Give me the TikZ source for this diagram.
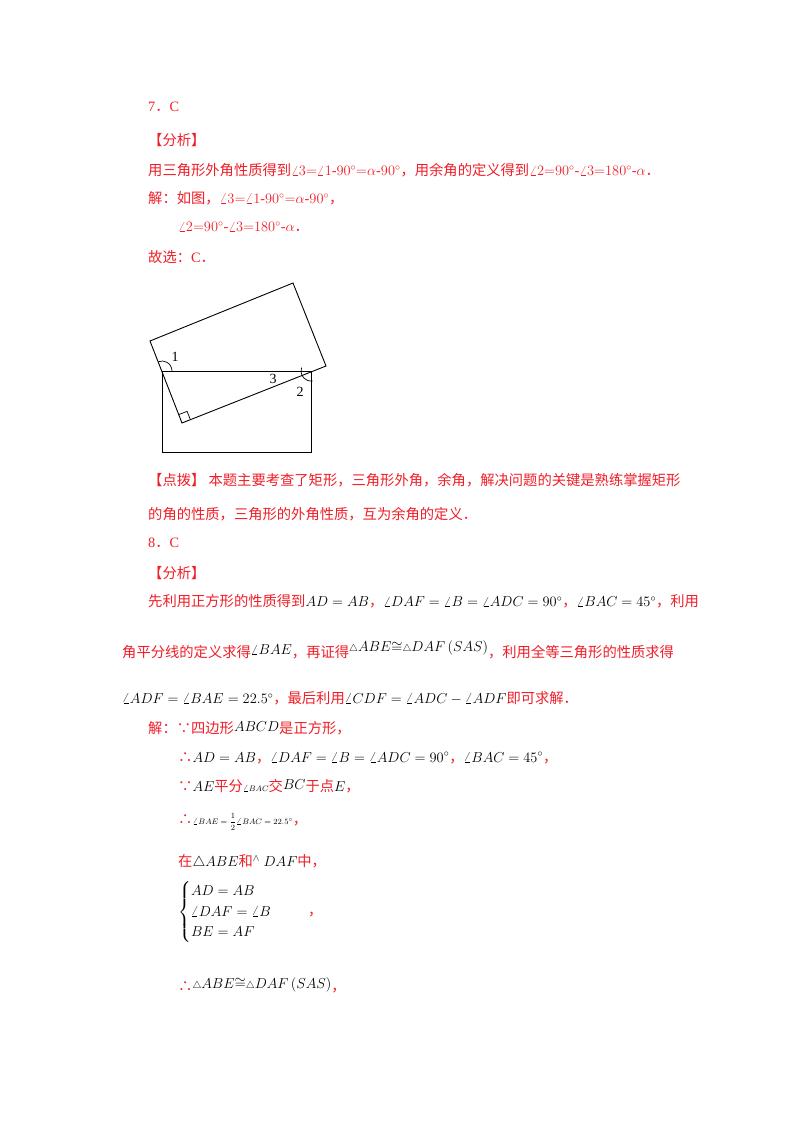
\documentclass[tikz,border=0pt]{standalone}
\usepackage{amsmath}
\usepackage{fontspec}
\setmainfont{Liberation Serif}
\newfontfamily\cjk{Noto Sans CJK SC}
\usetikzlibrary{calc}
\definecolor{rd}{RGB}{240,30,40}
\newcommand{\zh}[1]{{\cjk #1}}
\begin{document}
\begin{tikzpicture}[x=1pt,y=-1pt,
  t/.style={anchor=west,inner sep=0pt,text=rd,font=\fontsize{14.3}{17}\selectfont},
  fig/.style={line width=0.9pt}]
\useasboundingbox[fill=white] (0,0) rectangle (800,1132);
% problem 7
\node[t] (a1) at (148,107) {7\zh{．}C};
\node[t] (a2) at (148,140) {\zh{【分析】}};
\node[t] (a3) at (148,170) {\zh{用三角形外角性质得到}$\angle3{=}\angle1\text{-}90^\circ{=}\alpha\text{-}90^\circ$\zh{，用余角的定义得到}$\angle2{=}90^\circ\text{-}\angle3{=}180^\circ\text{-}\alpha$\zh{．}};
\node[t] (a4) at (148,198) {\zh{解：如图，}$\angle3{=}\angle1\text{-}90^\circ{=}\alpha\text{-}90^\circ$\zh{，}};
\node[t] (a5) at (178,227) {$\angle2{=}90^\circ\text{-}\angle3{=}180^\circ\text{-}\alpha$\zh{．}};
\node[t] (a6) at (148,257) {\zh{故选：}C\zh{．}};
% figure
\coordinate (P) at (150,341);
\coordinate (Q) at (293,283);
\coordinate (R) at (326,366);
\coordinate (S) at (182,423);
\draw[fig] (P)--(Q)--(R)--(S)--cycle;
\coordinate (V) at (162,371);
\coordinate (W) at (311,371);
\draw[fig] (V) rectangle (311,452);
% right angle at S
\draw[line width=0.7pt] ($(S)!9pt!(P)$) -- ($(S)!9pt!(P)+(S)!9pt!(R)-(S)$) -- ($(S)!9pt!(R)$);
% arcs
\draw[line width=0.7pt] ($(V)+(10,0)$) arc[start angle=0,end angle=-112,radius=10];
\draw[line width=0.7pt] ($(W)+(-9.4,-3.4)$) arc[start angle=-160,end angle=-280,radius=10];
\node[font=\fontsize{14}{14}\selectfont,inner sep=0pt] (l1) at (175,357) {1};
\node[font=\fontsize{14}{14}\selectfont,inner sep=0pt] (l3) at (273,379) {3};
\node[font=\fontsize{14}{14}\selectfont,inner sep=0pt] (l2) at (300,392) {2};
% comment
\node[t] (b1) at (148,480) {\zh{【点拨】 本题主要考查了矩形，三角形外角，余角，解决问题的关键是熟练掌握矩形}};
\node[t] (b2) at (148,514) {\zh{的角的性质，三角形的外角性质，互为余角的定义．}};
% problem 8
\node[t] (c1) at (148,543) {8\zh{．}C};
\node[t] (c2) at (148,573) {\zh{【分析】}};
\node[t] (c3) at (148,601) {\zh{先利用正方形的性质得到}\textcolor{black}{$AD=AB$}\zh{，}\textcolor{black}{$\angle DAF=\angle B=\angle ADC=90^\circ$}\zh{，}\textcolor{black}{$\angle BAC=45^\circ$}\zh{，利用}};
\node[t] (c4) at (122,650) {\zh{角平分线的定义求得}\raisebox{3pt}{\textcolor{black}{$\angle BAE$}}\zh{，再证得}\raisebox{6pt}{\textcolor{black}{${\scriptstyle\triangle}ABE{\cong}{\scriptstyle\triangle}DAF\left(SAS\right)$}}\zh{，利用全等三角形的性质求得}};
\node[t] (c5) at (122,698) {\textcolor{black}{$\angle ADF=\angle BAE=22.5^\circ$}\zh{，最后利用}\textcolor{black}{$\angle CDF=\angle ADC-\angle ADF$}\zh{即可求解．}};
\node[t] (c6) at (148,728) {\zh{解：∵四边形}\raisebox{2pt}{\textcolor{black}{$ABCD$}}\zh{是正方形，}};
\node[t] (c7) at (178,758) {\zh{∴}\textcolor{black}{$AD=AB$}\zh{，}\textcolor{black}{$\angle DAF=\angle B=\angle ADC=90^\circ$}\zh{，}\textcolor{black}{$\angle BAC=45^\circ$}\zh{，}};
\node[t] (c8) at (178,786) {\zh{∵}\textcolor{black}{$AE$}\zh{平分}\textcolor{black}{\footnotesize$\angle BAC$}\zh{交}\raisebox{2pt}{\textcolor{black}{$BC$}}\zh{于点}\textcolor{black}{$E$}\zh{，}};
\node[t] (c9) at (178,822) {\zh{∴}\textcolor{black}{\footnotesize$\angle BAE=\dfrac{1}{2}\angle BAC=22.5^\circ$}\zh{，}};
\node[t] (c10) at (178,862) {\zh{在}\textcolor{black}{$\triangle ABE$}\zh{和}\textcolor{black}{${}^\wedge\ DAF$}\zh{中，}};
\node[t,text=black] (c11) at (178,912) {$\begin{cases}AD=AB\\ \angle DAF=\angle B\\ BE=AF\end{cases}$\hspace{22pt}\textcolor{rd}{\zh{，}}};
\node[t] (c12) at (178,985) {\zh{∴}\raisebox{3pt}{\textcolor{black}{${\scriptstyle\triangle}ABE{\cong}{\scriptstyle\triangle}DAF\left(SAS\right)$}}\zh{，}};
\end{tikzpicture}
\end{document}
